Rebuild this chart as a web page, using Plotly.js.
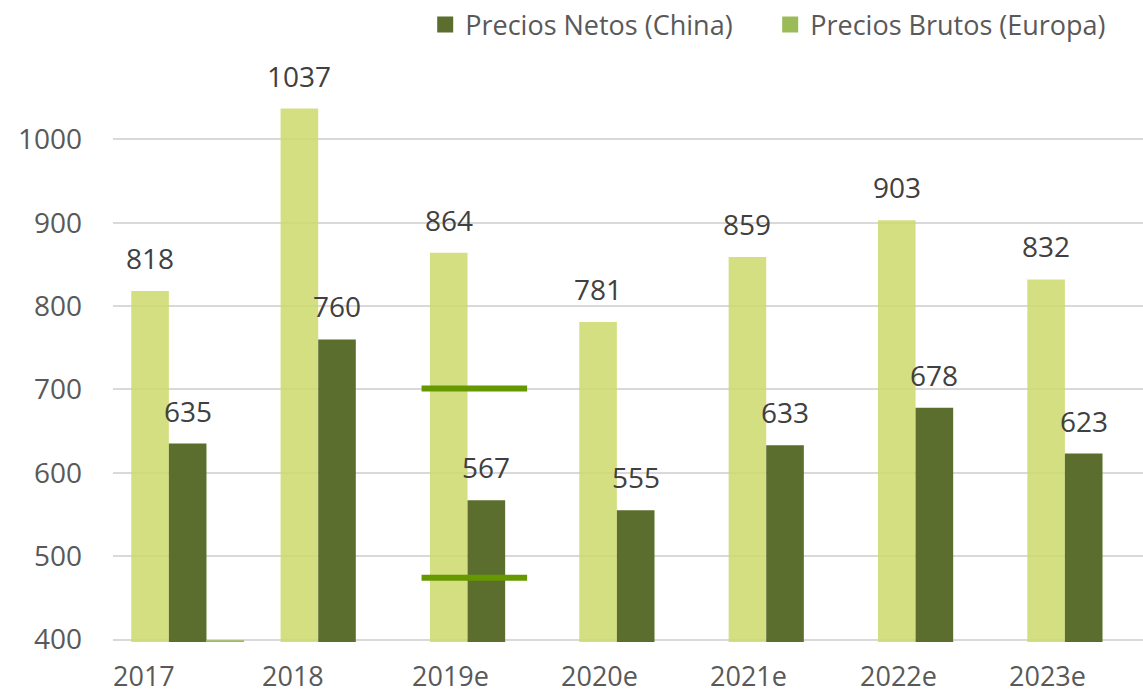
<!DOCTYPE html>
<html>
<head>
<meta charset="utf-8">
<script src="https://cdn.plot.ly/plotly-3.0.1.min.js"></script>
<style>
  html, body { margin: 0; padding: 0; background: #ffffff; }
  #chart { width: 1143px; height: 694px; }
</style>
</head>
<body>
<div id="chart"></div>
<script>
// ---- Data ----
const categories = ['2017', '2018', '2019e', '2020e', '2021e', '2022e', '2023e'];
const preciosBrutosEuropa = [818, 1037, 864, 781, 859, 903, 832];
const preciosNetosChina = [635, 760, 567, 555, 633, 678, 623];
const terceraSerie = [399, null, null, null, null, null, null];
const lineasCategoria = '2019e';
const lineasValores = [701, 474];
const yTickVals = [400, 500, 600, 700, 800, 900, 1000];
const yTickText = ['400', '500', '600', '700', '800', '900', '1000'];
const nombreNetos = 'Precios Netos (China)';
const nombreBrutos = 'Precios Brutos (Europa)';

// ---- Styles ----
const FONT = 'Open Sans, Roboto, DejaVu Sans, sans-serif';
const colorBrutosBar = 'rgba(204,217,108,0.85)';
const colorBrutosLegend = '#9bbb59';
const colorNetos = '#5b6e2e';
const colorTercera = '#9bbb59';
const colorLineas = '#669900';
const barPx = 37.6;

const traces = [
  { type: 'bar', x: categories, y: preciosBrutosEuropa, name: nombreBrutos,
    marker: { color: colorBrutosBar, line: { width: 0 } }, showlegend: false, hoverinfo: 'skip' },
  { type: 'bar', x: categories, y: preciosNetosChina, name: nombreNetos,
    marker: { color: colorNetos, line: { width: 0 } }, showlegend: false, hoverinfo: 'skip' },
  { type: 'bar', x: categories, y: terceraSerie, name: 'otra',
    marker: { color: colorTercera, line: { width: 0 } }, showlegend: false, hoverinfo: 'skip' },
  // legend entries
  { type: 'scatter', mode: 'markers', x: [null], y: [null], name: nombreNetos,
    marker: { symbol: 'square', size: 17, color: colorNetos, line: { width: 0 } } },
  { type: 'scatter', mode: 'markers', x: [null], y: [null], name: nombreBrutos,
    marker: { symbol: 'square', size: 17, color: colorBrutosLegend, line: { width: 0 } } }
];

const annotations = [];
categories.forEach((c, i) => {
  [[preciosBrutosEuropa, -barPx], [preciosNetosChina, 0]].forEach(([arr, dx]) => {
    if (arr[i] == null) return;
    annotations.push({
      x: i, y: arr[i], xref: 'x', yref: 'y', text: String(arr[i]),
      showarrow: false, xanchor: 'center', yanchor: 'bottom', xshift: dx, yshift: 12,
      font: { family: FONT, size: 28, color: '#404040' }
    });
  });
  // category label, left-aligned at category start
  annotations.push({
    x: i - 0.5, y: 0, xref: 'x', yref: 'paper', text: c,
    showarrow: false, xanchor: 'left', yanchor: 'middle', xshift: -1, yshift: -33,
    borderpad: 0,
    font: { family: FONT, size: 27, color: '#595959' }
  });
});

const ci = categories.indexOf(lineasCategoria);
const shapes = lineasValores.map(v => ({
  type: 'line', xref: 'x', yref: 'y', x0: ci - 0.434, x1: ci + 0.273, y0: v, y1: v,
  line: { color: colorLineas, width: 6 }
}));

const layout = {
  width: 1143, height: 694,
  margin: { l: 113.3, r: 0, t: 55.8, b: 51.5, pad: 0 },
  paper_bgcolor: '#ffffff', plot_bgcolor: '#ffffff',
  barmode: 'group', bargap: 0.2445, bargroupgap: 0,
  font: { family: FONT, color: '#595959' },
  showlegend: true,
  legend: {
    orientation: 'h', xref: 'container', yref: 'container',
    x: 0.372, xanchor: 'left', y: 0.964, yanchor: 'middle',
    font: { family: FONT, size: 27, color: '#595959' },
    entrywidth: 300, entrywidthmode: 'pixels', bgcolor: 'rgba(0,0,0,0)',
    traceorder: 'normal'
  },
  xaxis: {
    type: 'category', range: [-0.5, 6.397], autorange: false,
    showgrid: false, zeroline: false, showline: false, ticks: '',
    showticklabels: false
  },
  yaxis: {
    range: [397, 1100], autorange: false,
    tickmode: 'array', tickvals: yTickVals, ticktext: yTickText,
    showgrid: true, gridcolor: '#d9d9d9', gridwidth: 2,
    zeroline: false, showline: false, ticks: '', ticklabelstandoff: 30,
    tickfont: { family: FONT, size: 28, color: '#595959' }
  },
  annotations: annotations,
  shapes: shapes
};

Plotly.newPlot('chart', traces, layout, { staticPlot: true, displayModeBar: false });
</script>
</body>
</html>
